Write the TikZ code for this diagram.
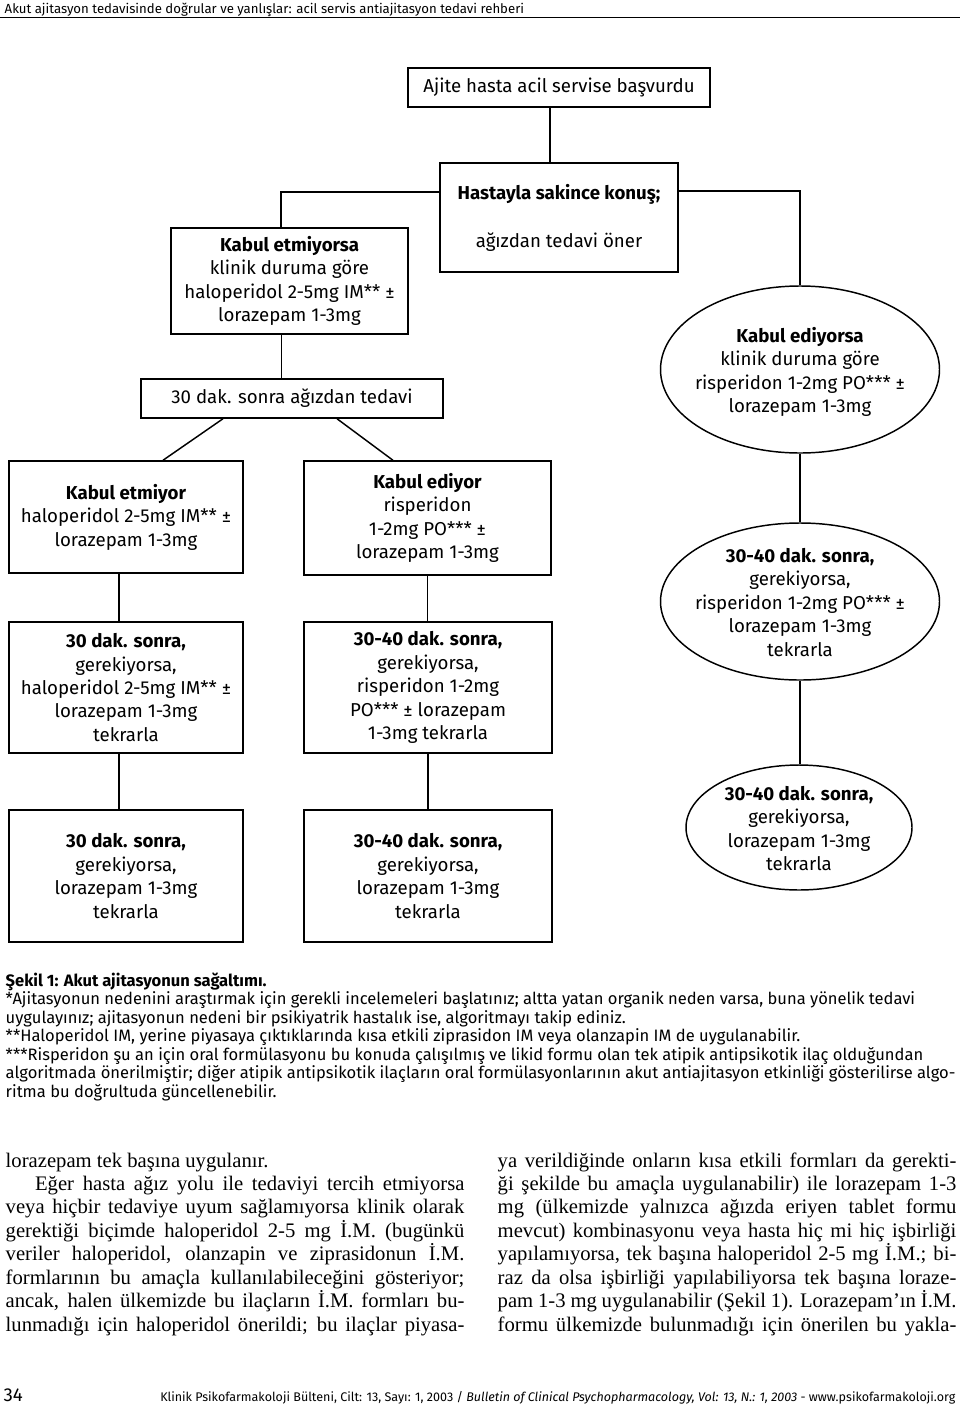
\documentclass[tikz,border=0pt]{standalone}
\usepackage{fontspec}
\setmainfont{Fira Sans}
\newfontfamily\bodyserif{Liberation Serif}
\usetikzlibrary{shapes.geometric}
\newcommand{\ovaltext}[1]{\makebox[0pt]{\smash{\raisebox{-6pt}{\begin{tabular}{@{}c@{}}#1\end{tabular}}}}}
\newcommand{\jline}[1]{\makebox[344pt][s]{#1}}

\begin{document}
\begin{tikzpicture}[x=0.75pt, y=-0.75pt, every path/.style={line width=1.1pt},%
        box/.style={draw, rectangle, align=center, inner sep=2pt, font=\fontsize{14}{17.6}\selectfont},
        oval/.style={draw, ellipse, inner sep=0pt, font=\fontsize{14}{17.6}\selectfont},
        para/.style={anchor=base west, inner sep=0pt}]
        \useasboundingbox (0,0) rectangle (960,1406);
        \node[para, font=\fontsize{9.9}{11}\selectfont] (head) at (4,13) {Akut ajitasyon tedavisinde doğrular ve yanlışlar: acil servis antiajitasyon tedavi rehberi};
        \draw[line width=0.75pt] (0,17) -- (960,17);

        \node[box, minimum width=226.5pt, minimum height=29.25pt] (start) at (559,87.5) {Ajite hasta acil servise başvurdu};
        \node[box, minimum width=178.5pt, minimum height=81.75pt] (talk) at (559,217.5) {\textbf{Hastayla sakince konuş;}\\[18.4pt] ağızdan tedavi öner};
        \node[box, minimum width=177.75pt, minimum height=79.5pt] (refuse) at (289.5,281) {\textbf{Kabul etmiyorsa}\\ klinik duruma göre\\ haloperidol 2-5mg IM** ±\\ lorazepam 1-3mg};
        \node[box, minimum width=226.5pt, minimum height=29.25pt] (oral) at (292,398.5) {30 dak. sonra ağızdan tedavi};
        \node[oval, minimum width=209.25pt, minimum height=125.25pt] (accept) at (800,369.5) {\ovaltext{\textbf{Kabul ediyorsa}\\ klinik duruma göre\\ risperidon 1-2mg PO*** ±\\ lorazepam 1-3mg}};

        \node[box, minimum width=175.5pt, minimum height=84pt] (noA) at (126,517) {\textbf{Kabul etmiyor}\\ haloperidol 2-5mg IM** ±\\ lorazepam 1-3mg};
        \node[box, minimum width=175.5pt, minimum height=98.25pt] (noB) at (126,687.5) {\textbf{30 dak. sonra,}\\ gerekiyorsa,\\ haloperidol 2-5mg IM** ±\\ lorazepam 1-3mg\\ tekrarla};
        \node[box, minimum width=175.5pt, minimum height=99pt] (noC) at (126,876) {\textbf{30 dak. sonra,}\\ gerekiyorsa,\\ lorazepam 1-3mg\\ tekrarla};

        \node[box, minimum width=185.25pt, minimum height=85.5pt] (yesA) at (427.5,518) {\textbf{Kabul ediyor}\\ risperidon\\ 1-2mg PO*** ±\\ lorazepam 1-3mg};
        \node[box, minimum width=186pt, minimum height=98.25pt] (yesB) at (428,687.5) {\textbf{30-40 dak. sonra,}\\ gerekiyorsa,\\ risperidon 1-2mg\\ PO*** ± lorazepam\\ 1-3mg tekrarla};
        \node[box, minimum width=186pt, minimum height=99pt] (yesC) at (428,876) {\textbf{30-40 dak. sonra,}\\ gerekiyorsa,\\ lorazepam 1-3mg\\ tekrarla};

        \node[oval, minimum width=209.25pt, minimum height=117.75pt] (acceptB) at (800,601.5) {\ovaltext{\textbf{30-40 dak. sonra,}\\ gerekiyorsa,\\ risperidon 1-2mg PO*** ±\\ lorazepam 1-3mg\\ tekrarla}};
        \node[oval, minimum width=169.5pt, minimum height=93.75pt] (acceptC) at (799,827.5) {\ovaltext{\textbf{30-40 dak. sonra,}\\ gerekiyorsa,\\ lorazepam 1-3mg\\ tekrarla}};

        \draw ([xshift=-6.75pt]start.south) -- ([xshift=-6.75pt]start.south |- talk.north);
        \draw ([yshift=19pt]talk.west) -| ([xshift=-6.4pt]refuse.north);
        \draw ([yshift=20pt]talk.east) -| (accept.north);
        \draw ([xshift=-6pt]refuse.south) -- ([xshift=-6pt]refuse.south |- oral.north);
        \draw ([xshift=-51.75pt]oral.south) -- ([xshift=27.75pt]noA.north);
        \draw ([xshift=33.75pt]oral.south) -- ([xshift=-25.9pt]yesA.north);
        \draw ([xshift=-5.25pt]noA.south) -- ([xshift=-5.25pt]noA.south |- noB.north);
        \draw ([xshift=-5.25pt]noB.south) -- ([xshift=-5.25pt]noB.south |- noC.north);
        \draw (yesA.south) -- (yesA.south |- yesB.north);
        \draw (yesB.south) -- (yesB.south |- yesC.north);
        \draw (accept.south) -- (acceptB.north);
        \draw (acceptB.south) -- (acceptB.south |- acceptC.north);

        \node[para] (caption) at (5,986) {\parbox[t]{715pt}{\raggedright\fontsize{12.4}{13.9}\selectfont
                \textbf{Şekil 1: Akut ajitasyonun sağaltımı.}\\
                {}*Ajitasyonun nedenini araştırmak için gerekli incelemeleri başlatınız; altta yatan organik neden varsa, buna yönelik tedavi\\
                uygulayınız; ajitasyonun nedeni bir psikiyatrik hastalık ise, algoritmayı takip ediniz.\\
                {}**Haloperidol IM, yerine piyasaya çıktıklarında kısa etkili ziprasidon IM veya olanzapin IM de uygulanabilir.\\
                {}***Risperidon şu an için oral formülasyonu bu konuda çalışılmış ve likid formu olan tek atipik antipsikotik ilaç olduğundan\\
                algoritmada önerilmiştir; diğer atipik antipsikotik ilaçların oral formülasyonlarının akut antiajitasyon etkinliği gösterilirse algo-\\
                ritma bu doğrultuda güncellenebilir.}};

        \node[para] (colL) at (5,1167) {\parbox[t]{344pt}{\bodyserif\fontsize{15.5}{17.6}\selectfont
                lorazepam tek başına uygulanır.\\
                \jline{\hspace{22pt}Eğer hasta ağız yolu ile tedaviyi tercih etmiyorsa}\\
                \jline{veya hiçbir tedaviye uyum sağlamıyorsa klinik olarak}\\
                \jline{gerektiği biçimde haloperidol 2-5 mg İ.M. (bugünkü}\\
                \jline{veriler haloperidol, olanzapin ve ziprasidonun İ.M.}\\
                \jline{formlarının bu amaçla kullanılabileceğini gösteriyor;}\\
                \jline{ancak, halen ülkemizde bu ilaçların İ.M. formları bu-}\\
                \jline{lunmadığı için haloperidol önerildi; bu ilaçlar piyasa-}}};
        \node[para] (colR) at (497,1167) {\parbox[t]{344pt}{\bodyserif\fontsize{15.5}{17.6}\selectfont
                \jline{ya verildiğinde onların kısa etkili formları da gerekti-}\\
                \jline{ği şekilde bu amaçla uygulanabilir) ile lorazepam 1-3}\\
                \jline{mg (ülkemizde yalnızca ağızda eriyen tablet formu}\\
                \jline{mevcut) kombinasyonu veya hasta hiç mi hiç işbirliği}\\
                \jline{yapılamıyorsa, tek başına haloperidol 2-5 mg İ.M.; bi-}\\
                \jline{raz da olsa işbirliği yapılabiliyorsa tek başına loraze-}\\
                \jline{pam 1-3 mg uygulanabilir (Şekil 1). Lorazepam’ın İ.M.}\\
                \jline{formu ülkemizde bulunmadığı için önerilen bu yakla-}}};

        \node[para, font=\fontsize{14}{16}\selectfont] (page) at (3,1401) {34};
        \node[anchor=base east, inner sep=0pt, font=\fontsize{9.4}{11}\selectfont] (foot) at (956,1401) {Klinik Psikofarmakoloji Bülteni, Cilt: 13, Sayı: 1, 2003 / \textit{Bulletin of Clinical Psychopharmacology, Vol: 13, N.: 1, 2003} - www.psikofarmakoloji.org};
    \end{tikzpicture}
\end{document}
